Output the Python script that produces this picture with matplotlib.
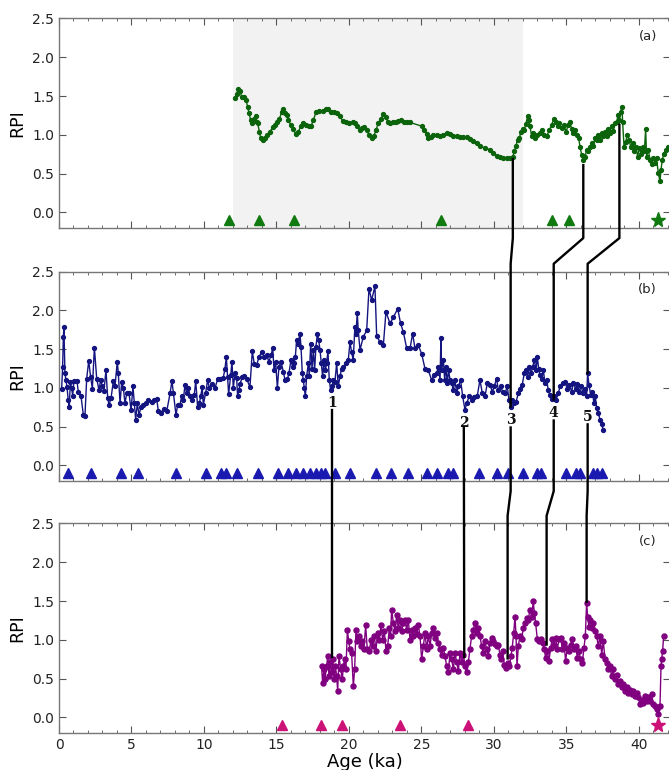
import matplotlib
matplotlib.use('Agg')
import matplotlib.pyplot as plt
from matplotlib.lines import Line2D
from matplotlib.ticker import MultipleLocator

# panel (a) RPI record
a_age = [12.14, 12.25, 12.37, 12.48, 12.6, 12.76, 12.9, 13.01, 13.1, 13.22, 13.33, 13.47, 13.56, 13.63,
         13.7, 13.82, 13.91, 14.05, 14.21, 14.37, 14.55, 14.74, 14.9, 15.06, 15.2, 15.36, 15.47, 15.59,
         15.7, 15.82, 15.98, 16.16, 16.32, 16.51, 16.67, 16.85, 17.03, 17.22, 17.38, 17.54, 17.72, 17.95,
         18.18, 18.41, 18.57, 18.76, 18.99, 19.2, 19.38, 19.56, 19.79, 20.02, 20.25, 20.41, 20.57, 20.76,
         20.92, 21.06, 21.22, 21.38, 21.56, 21.72, 21.86, 22.02, 22.18, 22.37, 22.53, 22.67, 22.83, 23.01,
         23.22, 23.4, 23.59, 23.79, 23.98, 24.21, 25.06, 25.2, 25.36, 25.47, 25.63, 25.82, 26.05, 26.28,
         26.51, 26.74, 26.97, 27.2, 27.43, 27.66, 27.89, 28.12, 28.35, 28.58, 28.81, 29.03, 29.38, 29.72,
         29.95, 30.18, 30.41, 30.64, 30.87, 31.1, 31.29, 31.4, 31.52, 31.63, 31.75, 31.86, 31.98, 32.09,
         32.2, 32.32, 32.41, 32.48, 32.6, 32.71, 32.85, 32.99, 33.17, 33.33, 33.47, 33.63, 33.82, 33.98,
         34.14, 34.28, 34.39, 34.51, 34.67, 34.83, 34.97, 35.13, 35.24, 35.36, 35.47, 35.59, 35.7, 35.84,
         35.93, 36.05, 36.16, 36.28, 36.39, 36.51, 36.62, 36.74, 36.85, 36.97, 37.08, 37.2, 37.31, 37.43,
         37.54, 37.66, 37.77, 37.89, 38.0, 38.11, 38.23, 38.34, 38.46, 38.57, 38.64, 38.74, 38.83, 38.87,
         38.97, 39.08, 39.2, 39.31, 39.43, 39.56, 39.68, 39.79, 39.91, 40.02, 40.14, 40.25, 40.37, 40.46,
         40.53, 40.64, 40.76, 40.87, 40.99, 41.1, 41.21, 41.33, 41.45, 41.52, 41.61, 41.72, 41.86, 42.0]
a_rpi = [1.47, 1.53, 1.59, 1.56, 1.49, 1.49, 1.45, 1.36, 1.28, 1.19, 1.15, 1.21, 1.24, 1.17,
         1.15, 1.04, 0.96, 0.94, 0.96, 1.0, 1.04, 1.10, 1.13, 1.17, 1.21, 1.29, 1.33, 1.28,
         1.26, 1.19, 1.13, 1.07, 1.01, 1.04, 1.11, 1.15, 1.13, 1.11, 1.11, 1.19, 1.29, 1.31,
         1.31, 1.33, 1.33, 1.30, 1.29, 1.28, 1.24, 1.18, 1.16, 1.15, 1.16, 1.15, 1.11, 1.06,
         1.09, 1.10, 1.06, 1.0, 0.96, 0.99, 1.06, 1.15, 1.20, 1.27, 1.23, 1.17, 1.15, 1.16,
         1.17, 1.18, 1.19, 1.17, 1.16, 1.16, 1.11, 1.06, 1.01, 0.96, 0.97, 1.0, 1.0, 0.99,
         1.0, 1.02, 1.01, 0.99, 0.98, 0.97, 0.97, 0.97, 0.95, 0.92, 0.89, 0.86, 0.83, 0.81,
         0.77, 0.73, 0.71, 0.70, 0.70, 0.70, 0.71, 0.79, 0.86, 0.94, 0.96, 1.04, 1.07, 1.06,
         1.14, 1.24, 1.19, 1.11, 0.98, 1.02, 0.96, 1.0, 1.02, 1.06, 1.0, 0.98, 1.06, 1.13,
         1.21, 1.17, 1.11, 1.15, 1.09, 1.13, 1.04, 1.13, 1.17, 1.07, 1.02, 1.06, 1.0, 0.96,
         0.85, 0.74, 0.68, 0.71, 0.81, 0.79, 0.84, 0.89, 0.86, 0.96, 0.94, 1.0, 0.94, 1.02,
         0.98, 1.04, 0.99, 1.07, 1.03, 1.12, 1.05, 1.15, 1.17, 1.26, 1.19, 1.30, 1.36, 1.17,
         0.85, 0.91, 1.0, 0.94, 0.85, 0.89, 0.79, 0.85, 0.72, 0.83, 0.76, 0.85, 0.79, 1.07,
         0.72, 0.81, 0.68, 0.62, 0.70, 0.64, 0.70, 0.51, 0.40, 0.55, 0.68, 0.76, 0.81, 0.85]

# panel (b) RPI record
b_age = [0.18, 0.25, 0.3, 0.34, 0.41, 0.48, 0.55, 0.64, 0.71, 0.78, 0.87, 0.94, 1.03, 1.24, 1.33,
         1.52, 1.68, 1.79, 1.91, 2.05, 2.18, 2.3, 2.44, 2.6, 2.76, 2.87, 2.99, 3.1, 3.24, 3.36,
         3.45, 3.59, 3.75, 3.86, 4.02, 4.09, 4.21, 4.32, 4.44, 4.55, 4.67, 4.83, 4.97, 5.1, 5.2,
         5.29, 5.4, 5.52, 5.66, 5.82, 5.98, 6.16, 6.39, 6.55, 6.74, 6.85, 7.03, 7.22, 7.43, 7.66,
         7.79, 7.89, 8.07, 8.18, 8.34, 8.46, 8.57, 8.69, 8.8, 8.92, 9.03, 9.2, 9.33, 9.43, 9.56,
         9.68, 9.77, 9.88, 9.95, 10.11, 10.25, 10.37, 10.53, 10.76, 10.94, 11.1, 11.33, 11.45,
         11.54, 11.63, 11.7, 11.84, 11.93, 12.02, 12.14, 12.25, 12.32, 12.41, 12.48, 12.64, 12.78,
         12.94, 13.17, 13.33, 13.47, 13.63, 13.79, 13.98, 14.16, 14.32, 14.48, 14.62, 14.74, 14.83,
         14.94, 15.06, 15.17, 15.31, 15.47, 15.59, 15.75, 15.86, 16.0, 16.11, 16.21, 16.3, 16.39,
         16.48, 16.62, 16.69, 16.78, 16.85, 16.92, 16.99, 17.08, 17.2, 17.26, 17.36, 17.45, 17.54,
         17.63, 17.72, 17.82, 17.91, 18.0, 18.09, 18.18, 18.28, 18.37, 18.46, 18.55, 18.64, 18.74,
         18.83, 18.92, 19.03, 19.15, 19.26, 19.38, 19.49, 19.61, 19.79, 19.95, 20.07, 20.18, 20.29,
         20.41, 20.48, 20.57, 20.64, 20.76, 20.99, 21.22, 21.38, 21.56, 21.79, 21.91, 22.14, 22.37,
         22.55, 22.83, 23.06, 23.36, 23.56, 23.75, 23.98, 24.21, 24.39, 24.55, 24.78, 25.01, 25.24,
         25.47, 25.7, 25.86, 26.05, 26.16, 26.28, 26.34, 26.39, 26.51, 26.6, 26.69, 26.78, 26.87,
         26.97, 27.08, 27.2, 27.31, 27.43, 27.54, 27.7, 27.84, 28.0, 28.11, 28.29, 28.45, 28.65,
         28.85, 29.03, 29.2, 29.38, 29.54, 29.72, 29.89, 30.02, 30.18, 30.3, 30.46, 30.6, 30.76,
         30.92, 31.03, 31.15, 31.26, 31.38, 31.52, 31.68, 31.79, 31.95, 32.09, 32.2, 32.32, 32.44,
         32.55, 32.67, 32.78, 32.9, 32.99, 33.08, 33.17, 33.29, 33.4, 33.52, 33.63, 33.75, 33.86,
         33.98, 34.14, 34.28, 34.44, 34.55, 34.74, 34.9, 35.06, 35.2, 35.36, 35.47, 35.63, 35.75,
         35.89, 36.0, 36.16, 36.28, 36.39, 36.46, 36.55, 36.67, 36.78, 36.9, 36.99, 37.08, 37.2,
         37.31, 37.43, 37.54]
b_rpi = [0.98, 1.27, 1.66, 1.78, 1.19, 1.10, 1.01, 0.84, 0.76, 1.07, 1.0, 0.90, 1.09, 1.09, 0.95,
         0.89, 0.65, 0.64, 1.12, 1.35, 1.14, 0.99, 1.52, 1.12, 0.97, 1.10, 1.02, 0.96, 1.23, 0.87,
         0.78, 0.87, 1.09, 1.02, 1.34, 1.19, 0.80, 1.07, 1.0, 0.80, 0.93, 0.93, 0.71, 1.02, 0.80,
         0.59, 0.80, 0.65, 0.76, 0.78, 0.81, 0.84, 0.82, 0.84, 0.86, 0.70, 0.68, 0.73, 0.70, 0.93,
         1.09, 0.93, 0.65, 0.78, 0.78, 0.89, 0.84, 1.04, 0.93, 1.0, 0.89, 0.84, 0.91, 1.09, 0.76,
         0.80, 0.89, 1.01, 0.78, 0.93, 1.10, 1.0, 1.05, 1.0, 1.11, 1.12, 1.13, 1.25,
         1.40, 1.14, 0.92, 1.16, 1.34, 1.0, 1.19, 1.13, 0.89, 0.97, 1.05, 1.14, 1.15,
         1.12, 1.01, 1.47, 1.31, 1.29, 1.40, 1.46, 1.40, 1.42, 1.34, 1.42, 1.51, 1.23,
         1.34, 1.0, 1.27, 1.34, 1.21, 1.10, 1.11, 1.19, 1.36, 1.27, 1.32, 1.40, 1.62,
         1.57, 1.70, 1.53, 1.19, 1.10, 1.0, 0.89, 1.15, 1.32, 1.15, 1.57, 1.25, 1.49,
         1.23, 1.53, 1.70, 1.62, 1.49, 1.32, 1.15, 1.36, 1.23, 1.32, 1.48, 1.10, 0.97,
         1.02, 1.10, 1.08, 1.32, 1.02, 1.15, 1.25, 1.27, 1.32, 1.36, 1.59, 1.46, 1.36,
         1.79, 1.70, 1.96, 1.74, 1.49, 1.66, 1.74, 2.28, 2.13, 2.31, 1.67, 1.59, 1.55,
         1.98, 1.83, 1.91, 2.02, 1.83, 1.72, 1.51, 1.51, 1.70, 1.51, 1.55, 1.44, 1.25,
         1.23, 1.10, 1.17, 1.19, 1.27, 1.10, 1.64, 1.23, 1.36, 1.10, 1.27, 1.06, 1.23,
         1.10, 1.06, 0.97, 1.10, 0.93, 1.02, 1.10, 0.89, 0.72, 0.80, 0.89, 0.85, 0.88,
         0.90, 1.10, 0.93, 0.89, 1.06, 1.04, 0.95, 1.02, 1.12, 0.97, 1.02, 0.95, 0.93,
         1.02, 0.85, 0.76, 0.85, 0.80, 0.82, 0.93, 0.99, 1.04, 1.19, 1.23, 1.14, 1.27,
         1.19, 1.27, 1.36, 1.23, 1.40, 1.25, 1.17, 1.12, 1.23, 1.06, 1.10, 0.97, 0.91,
         0.86, 0.89, 0.85, 0.93, 1.02, 1.06, 1.07, 0.99, 1.04, 0.95, 1.06, 0.99, 1.05,
         0.95, 1.02, 0.93, 0.99, 0.89, 1.19, 1.04, 0.91, 0.95, 0.80, 0.89, 0.74, 0.68,
         0.59, 0.53, 0.46]

# panel (c) RPI record
c_age = [18.11, 18.18, 18.28, 18.34, 18.46, 18.53, 18.62, 18.69, 18.8, 18.87, 18.97, 19.06, 19.15,
         19.22, 19.31, 19.43, 19.54, 19.61, 19.7, 19.79, 19.89, 19.98, 20.07, 20.18, 20.3, 20.39,
         20.48, 20.57, 20.69, 20.8, 20.92, 21.03, 21.15, 21.26, 21.4, 21.52, 21.63, 21.75, 21.86,
         21.98, 22.09, 22.21, 22.32, 22.44, 22.55, 22.67, 22.78, 22.87, 22.94, 23.06, 23.17, 23.29,
         23.4, 23.52, 23.63, 23.75, 23.86, 23.98, 24.09, 24.21, 24.32, 24.44, 24.55, 24.67, 24.78,
         24.9, 25.01, 25.13, 25.24, 25.36, 25.47, 25.59, 25.7, 25.82, 25.93, 26.05, 26.16, 26.28,
         26.39, 26.51, 26.62, 26.74, 26.85, 26.97, 27.08, 27.2, 27.31, 27.43, 27.54, 27.66, 27.77,
         27.89, 28.0, 28.11, 28.23, 28.34, 28.46, 28.57, 28.69, 28.8, 28.92, 29.03, 29.15, 29.26,
         29.38, 29.49, 29.61, 29.72, 29.84, 29.95, 30.07, 30.18, 30.3, 30.41, 30.48, 30.6, 30.71,
         30.83, 30.94, 31.06, 31.17, 31.26, 31.36, 31.45, 31.52, 31.59, 31.68, 31.79, 31.91, 32.02,
         32.14, 32.25, 32.37, 32.48, 32.6, 32.71, 32.78, 32.87, 32.99, 33.13, 33.24, 33.36, 33.47,
         33.56, 33.68, 33.79, 33.91, 34.02, 34.14, 34.25, 34.37, 34.48, 34.6, 34.71, 34.83, 34.94,
         35.06, 35.17, 35.29, 35.4, 35.52, 35.63, 35.75, 35.86, 35.98, 36.09, 36.21, 36.3, 36.39,
         36.46, 36.55, 36.64, 36.74, 36.85, 36.97, 37.08, 37.2, 37.31, 37.43, 37.54, 37.66, 37.77,
         37.89, 38.0, 38.11, 38.23, 38.34, 38.46, 38.57, 38.69, 38.8, 38.92, 39.03, 39.14, 39.26,
         39.37, 39.49, 39.6, 39.72, 39.83, 39.95, 40.06, 40.18, 40.3, 40.41, 40.53, 40.64, 40.76,
         40.87, 40.99, 41.1, 41.22, 41.33, 41.45, 41.52, 41.56, 41.63, 41.7]
c_rpi = [0.66, 0.45, 0.62, 0.49, 0.66, 0.79, 0.53, 0.71, 0.58, 0.75, 0.49, 0.66, 0.53,
         0.34, 0.79, 0.62, 0.49, 0.66, 0.75, 0.62, 1.13, 0.98, 0.88, 0.83, 0.40, 0.62,
         1.13, 0.98, 1.05, 0.92, 0.98, 0.88, 1.19, 0.88, 0.86, 1.0, 0.92, 1.05, 0.86,
         1.09, 1.0, 1.19, 1.0, 1.11, 0.86, 0.92, 1.15, 1.05, 1.39, 1.22, 1.11, 1.32,
         1.15, 1.26, 1.11, 1.22, 1.26, 1.13, 1.26, 1.0, 1.13, 1.05, 1.15, 1.07, 1.19,
         1.05, 0.75, 0.92, 1.09, 0.88, 1.05, 0.92, 1.09, 1.15, 1.03, 1.09, 0.96, 0.88,
         0.81, 0.90, 0.79, 0.66, 0.58, 0.83, 0.75, 0.62, 0.83, 0.71, 0.60, 0.83, 0.71,
         0.81, 0.66, 0.58, 0.71, 0.88, 1.05, 1.13, 1.22, 1.09, 1.15, 1.05, 0.92, 0.83,
         0.98, 0.88, 0.79, 0.96, 1.03, 0.98, 0.95, 0.92, 0.94, 0.81, 0.75, 0.85, 0.68,
         0.64, 0.70, 0.66, 0.79, 0.90, 1.09, 1.30, 1.05, 0.66, 0.92, 1.05, 1.01, 1.15,
         1.22, 1.28, 1.26, 1.39, 1.30, 1.50, 1.35, 1.22, 1.01, 0.98, 1.01, 0.96, 0.88,
         0.77, 0.85, 0.73, 0.90, 1.01, 0.94, 1.03, 0.88, 1.01, 1.03, 0.88, 0.96, 0.73,
         0.90, 0.85, 0.94, 1.01, 0.88, 0.92, 0.77, 0.85, 0.75, 0.70, 0.90, 1.05, 1.48,
         1.30, 1.17, 1.26, 1.15, 1.22, 1.11, 1.05, 0.92, 1.05, 0.81, 0.98, 0.75, 0.70,
         0.62, 0.66, 0.53, 0.62, 0.49, 0.55, 0.43, 0.47, 0.39, 0.43, 0.34, 0.39, 0.32,
         0.36, 0.30, 0.34, 0.28, 0.32, 0.26, 0.17, 0.23, 0.19, 0.28, 0.21, 0.26, 0.21,
         0.30, 0.17, 0.15, 0.11, 0.04, 0.15, 0.66, 0.75, 0.85, 1.05]

# age control points (triangles) and base ages (stars)
a_tri = [11.75, 13.8, 16.2, 26.35, 34.0, 35.2]
b_tri = [0.6, 2.21, 4.28, 5.47, 8.05, 10.14, 11.17, 11.49, 12.25, 13.75, 15.08, 15.76, 16.35,
         16.84, 17.31, 17.75, 18.04, 18.33, 19.06, 20.09, 21.84, 22.92, 24.04, 25.35, 26.08,
         26.81, 27.19, 29.0, 30.23, 30.96, 31.99, 32.95, 33.25, 35.0, 35.64, 35.94, 36.81,
         37.11, 37.43]
c_tri = [15.41, 18.1, 19.5, 23.51, 28.22]
a_star = [41.3]
c_star = [41.3]

# tie points: (panel, age, rpi)
ties = [
    [(1, 18.85, 0.72), (2, 18.85, 0.78)],
    [(1, 27.92, 0.49), (2, 27.95, 0.78)],
    [(0, 31.3, 0.69), (0, 31.3, -0.33), (1, 31.15, 2.6), (1, 31.15, 0.76)],
    [(1, 31.15, 0.49), (1, 31.15, -0.33), (2, 30.94, 2.6), (2, 30.94, 0.76)],
    [(0, 36.16, 0.61), (0, 36.16, -0.33), (1, 34.12, 2.6), (1, 34.12, 0.85)],
    [(1, 34.12, 0.58), (1, 34.12, -0.33), (2, 33.63, 2.6), (2, 33.63, 0.94)],
    [(0, 38.65, 1.13), (0, 38.65, -0.33), (1, 36.46, 2.6), (1, 36.46, 1.19)],
    [(1, 36.46, 0.53), (1, 36.46, -0.33), (2, 36.39, 2.6), (2, 36.39, 1.49)],
]
tie_labels = ['1', '2', '3', '4', '5']
tie_label_x = [18.85, 27.92, 31.15, 34.12, 36.46]
tie_label_y = [0.81, 0.55, 0.58, 0.68, 0.63]

fig = plt.figure(figsize=(6.69, 7.70), dpi=100)
# right spine sits just past the figure edge, as in the cropped original
left = 59 / 669
width = 611 / 669
h = 0.2721
bottoms = [0.7039, 0.3753, 0.0481]
axes = [fig.add_axes([left, b, width, h]) for b in bottoms]

series = [
    (a_age, a_rpi, '#0b640b', 2.8, a_tri, '#107a10', a_star, '(a)'),
    (b_age, b_rpi, '#141480', 2.8, b_tri, '#1a1ab0', None, '(b)'),
    (c_age, c_rpi, '#800080', 3.6, c_tri, '#cc1177', c_star, '(c)'),
]

for i, ax in enumerate(axes):
    age, rpi, col, ms, tri, tcol, star, lab = series[i]
    if i == 0:
        ax.axvspan(12, 32, color='#f3f2f2', lw=0, zorder=0)
    ax.plot(age, rpi, '-o', color=col, lw=1.0, ms=ms, zorder=3)
    ax.plot(tri, [-0.1] * len(tri), '^', color=tcol, ms=6.5, ls='none', zorder=4, clip_on=False)
    if star:
        ax.plot(star, [-0.1] * len(star), '*', color=tcol, ms=11, ls='none', zorder=4, clip_on=False)
    ax.set_xlim(0, 42.14)
    ax.set_ylim(-0.2, 2.5)
    ax.set_yticks([0, 0.5, 1.0, 1.5, 2.0, 2.5])
    ax.set_yticklabels(['0.0', '0.5', '1.0', '1.5', '2.0', '2.5'])
    ax.xaxis.set_major_locator(MultipleLocator(5))
    ax.xaxis.set_minor_locator(MultipleLocator(1))
    ax.tick_params(which='both', direction='in', top=True, right=True, colors='#555555',
                   labelcolor='#222222', labelsize=10)
    ax.tick_params(which='major', length=5, width=0.8)
    ax.tick_params(which='minor', length=2.5, width=0.6)
    for s in ax.spines.values():
        s.set_color('#777777')
        s.set_linewidth(1.0)
    ax.set_ylabel('RPI', fontsize=12.5, labelpad=4)
    ax.text(40.6, 2.27, lab, ha='center', va='center', fontsize=9.5, color='#222222')
    if i < 2:
        ax.set_xticklabels([])

axes[2].set_xlabel('Age (ka)', fontsize=13, labelpad=1)

for t, x, y in zip(tie_labels, tie_label_x, tie_label_y):
    axes[1].text(x, y, t, ha='center', va='center', fontsize=10, fontweight='bold',
                 family='DejaVu Serif', color='#111111', zorder=12)

inv = fig.transFigure.inverted()
for tie in ties:
    xs, ys = [], []
    for p, x, y in tie:
        fx, fy = inv.transform(axes[p].transData.transform((x, y)))
        xs.append(fx)
        ys.append(fy)
    fig.add_artist(Line2D(xs, ys, transform=fig.transFigure, color='black', lw=1.7, zorder=10))

fig.savefig('out.png', dpi=100)
